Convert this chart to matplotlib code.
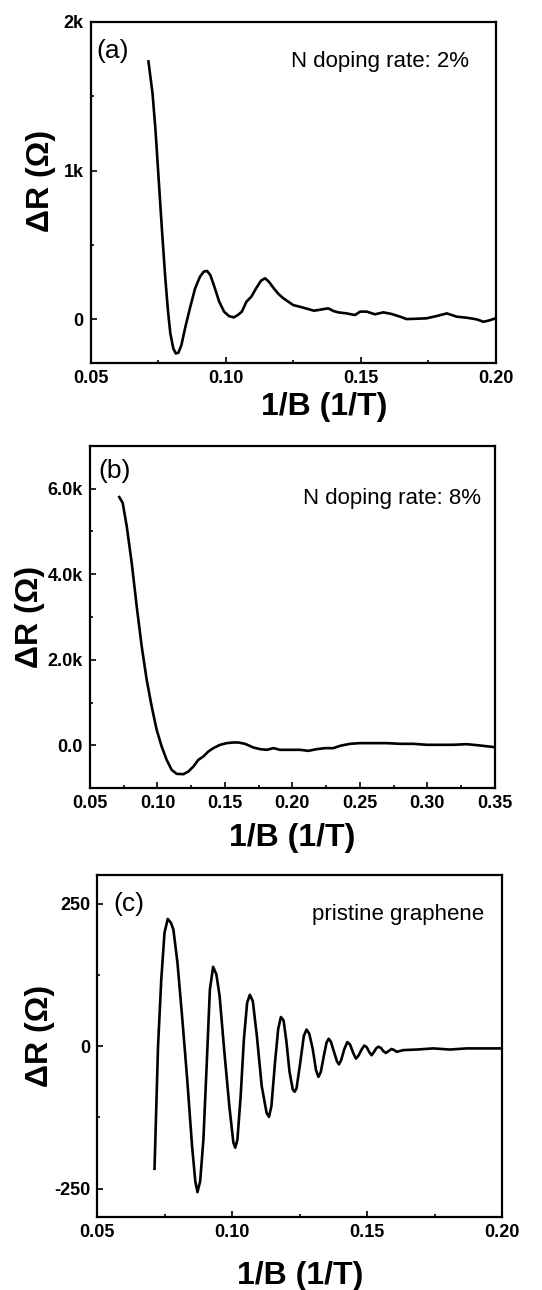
import matplotlib
matplotlib.use('Agg')
import matplotlib.pyplot as plt
from matplotlib.ticker import FixedLocator, MultipleLocator

plt.rcParams['font.family'] = ['Liberation Sans', 'DejaVu Sans']
plt.rcParams['axes.unicode_minus'] = False

# ── (a) N doping 2% ─────────────────────────────────────────
x_a = [0.0714, 0.0729, 0.0740, 0.0752, 0.0764, 0.0776, 0.0786, 0.0795, 0.0806,
       0.0815, 0.0825, 0.0836, 0.0851, 0.0869, 0.0887, 0.0905, 0.0919, 0.0931,
       0.0943, 0.0958, 0.0976, 0.0994, 0.1012, 0.1030, 0.1045, 0.1060, 0.1077,
       0.1095, 0.1113, 0.1131, 0.1146, 0.1160, 0.1178, 0.1196, 0.1214, 0.1232,
       0.1250, 0.1274, 0.1304, 0.1327, 0.1357, 0.1380, 0.1399, 0.1417, 0.1448,
       0.1479, 0.1498, 0.1522, 0.1553, 0.1584, 0.1615, 0.1646, 0.1670, 0.1707,
       0.1744, 0.1781, 0.1819, 0.1856, 0.1893, 0.1930, 0.1954, 0.1973, 0.2000]
r_a = [1733, 1520, 1274, 937, 601, 287, 63, -94, -195,
       -229, -224, -173, -49, 85, 209, 287, 321, 325,
       298, 220, 119, 52, 22, 13, 29, 52, 119,
       152, 209, 260, 276, 253, 209, 170, 141, 119,
       96, 85, 70, 58, 67, 74, 56, 47, 40,
       29, 52, 52, 34, 47, 36, 18, 2, 4,
       7, 22, 40, 18, 11, 0, -16, -9, 7]

# ── (b) N doping 8% ─────────────────────────────────────────
x_b = [0.0717, 0.0742, 0.0772, 0.0809, 0.0846, 0.0883, 0.0920, 0.0957, 0.0994,
       0.1031, 0.1068, 0.1105, 0.1142, 0.1192, 0.1229, 0.1266, 0.1303, 0.1340,
       0.1377, 0.1414, 0.1464, 0.1513, 0.1563, 0.1600, 0.1649, 0.1711, 0.1761,
       0.1810, 0.1860, 0.1908, 0.1983, 0.2057, 0.2118, 0.2180, 0.2242, 0.2304,
       0.2353, 0.2427, 0.2501, 0.2600, 0.2699, 0.2798, 0.2897, 0.2996, 0.3095,
       0.3193, 0.3292, 0.3391, 0.3500]
r_b = [5799, 5666, 5121, 4263, 3250, 2315, 1535, 912, 366,
       -23, -335, -569, -662, -670, -608, -491, -335, -257,
       -140, -62, 16, 55, 70, 70, 39, -47, -86,
       -101, -62, -101, -101, -101, -125, -86, -62, -62,
       -8, 39, 55, 55, 55, 39, 39, 16, 16,
       16, 31, 0, -39]

# ── (c) pristine graphene ───────────────────────────────────
x_c = [0.0712, 0.0725, 0.0737, 0.0749, 0.0761, 0.0773, 0.0782, 0.0797, 0.0815,
       0.0833, 0.0851, 0.0863, 0.0871, 0.0881, 0.0893, 0.0905, 0.0917, 0.0929,
       0.0941, 0.0953, 0.0971, 0.0989, 0.1004, 0.1011, 0.1019, 0.1031, 0.1043,
       0.1055, 0.1065, 0.1076, 0.1091, 0.1109, 0.1127, 0.1136, 0.1145, 0.1158,
       0.1170, 0.1180, 0.1190, 0.1200, 0.1212, 0.1224, 0.1231, 0.1238, 0.1252,
       0.1265, 0.1275, 0.1285, 0.1298, 0.1310, 0.1319, 0.1328, 0.1340, 0.1349,
       0.1357, 0.1365, 0.1378, 0.1388, 0.1395, 0.1403, 0.1415, 0.1426, 0.1436,
       0.1448, 0.1458, 0.1467, 0.1480, 0.1489, 0.1498, 0.1508, 0.1516, 0.1525,
       0.1533, 0.1541, 0.1550, 0.1560, 0.1569, 0.1578, 0.1590, 0.1600, 0.1609,
       0.1633, 0.1683, 0.1744, 0.1806, 0.1868, 0.1930, 0.2000]
r_c = [-215, 0, 117, 199, 223, 216, 204, 146, 47,
       -58, -175, -237, -256, -237, -164, -35, 99, 139,
       126, 88, -12, -105, -169, -178, -164, -88, 12,
       76, 90, 79, 18, -70, -117, -124, -105, -30,
       30, 51, 45, 10, -45, -76, -80, -74, -28,
       18, 29, 22, -5, -42, -54, -45, -15, 6,
       13, 8, -12, -27, -32, -25, -5, 7, 3,
       -12, -22, -17, -5, 1, -2, -11, -16, -10,
       -4, -1, -3, -9, -12, -9, -5, -7, -10,
       -7, -6, -4, -6, -4, -4, -4]

# 패널별 축 범위 / 눈금
xlim_a, xlim_b, xlim_c = (0.05, 0.20), (0.05, 0.35), (0.05, 0.20)
ylim_a, ylim_b, ylim_c = (-295, 2000), (-1000, 7000), (-300, 300)
xticks_a = [0.05, 0.10, 0.15, 0.20]
xticks_b = [0.05, 0.10, 0.15, 0.20, 0.25, 0.30, 0.35]
xticks_c = [0.05, 0.10, 0.15, 0.20]
yticks_a, ylabels_a = [0, 1000, 2000], ['0', '1k', '2k']
yticks_b, ylabels_b = [0, 2000, 4000, 6000], ['0.0', '2.0k', '4.0k', '6.0k']
yticks_c, ylabels_c = [-250, 0, 250], ['-250', '0', '250']

panels = [
    dict(rect=[0.1673, 0.7184, 0.7472, 0.2648], x=x_a, y=r_a, xlim=xlim_a, ylim=ylim_a,
         xticks=xticks_a, yticks=yticks_a, ylabels=ylabels_a, yminor=500,
         tag='(a)', tag_xy=(0.015, 0.95), note='N doping rate: 2%', note_xy=(0.935, 0.883),
         xlab_xy=(0.576, -0.128), ylab_xy=(-0.123, 0.534)),
    dict(rect=[0.1661, 0.3889, 0.7467, 0.2656], x=x_b, y=r_b, xlim=xlim_b, ylim=ylim_b,
         xticks=xticks_b, yticks=yticks_b, ylabels=ylabels_b, yminor=1000,
         tag='(b)', tag_xy=(0.02, 0.96), note='N doping rate: 8%', note_xy=(0.965, 0.847),
         xlab_xy=(0.5, -0.144), ylab_xy=(-0.148, 0.5)),
    dict(rect=[0.1795, 0.0564, 0.7472, 0.2653], x=x_c, y=r_c, xlim=xlim_c, ylim=ylim_c,
         xticks=xticks_c, yticks=yticks_c, ylabels=ylabels_c, yminor=125,
         tag='(c)', tag_xy=(0.039, 0.95), note='pristine graphene', note_xy=(0.955, 0.886),
         xlab_xy=(0.5, -0.172), ylab_xy=(-0.142, 0.53)),
]

fig = plt.figure(figsize=(5.42, 12.9), dpi=100)

for p in panels:
    ax = fig.add_axes(p['rect'])
    ax.plot(p['x'], p['y'], color='black', lw=1.9, solid_joinstyle='round')
    ax.set_xlim(*p['xlim'])
    ax.set_ylim(*p['ylim'])

    ax.xaxis.set_major_locator(FixedLocator(p['xticks']))
    ax.set_xticklabels([f'{v:.2f}' for v in p['xticks']])
    ax.xaxis.set_minor_locator(MultipleLocator(0.025))
    ax.yaxis.set_major_locator(FixedLocator(p['yticks']))
    ax.set_yticklabels(p['ylabels'])
    ax.yaxis.set_minor_locator(MultipleLocator(p['yminor']))

    ax.tick_params(which='both', direction='in', top=False, right=False, width=1.2)
    ax.tick_params(which='major', length=4.5, pad=5, labelsize=13)
    ax.tick_params(which='minor', length=2.5)
    for lab in ax.get_xticklabels() + ax.get_yticklabels():
        lab.set_fontweight('bold')
    for sp in ax.spines.values():
        sp.set_linewidth(1.6)

    ax.set_xlabel('1/B (1/T)', fontsize=23, fontweight='bold', va='center')
    ax.xaxis.set_label_coords(*p['xlab_xy'])
    ax.set_ylabel('ΔR (Ω)', fontsize=23, fontweight='bold', va='center')
    ax.yaxis.set_label_coords(*p['ylab_xy'])

    ax.text(*p['tag_xy'], p['tag'], transform=ax.transAxes, fontsize=19,
            ha='left', va='top')
    ax.text(*p['note_xy'], p['note'], transform=ax.transAxes, fontsize=16,
            ha='right', va='center')

fig.savefig('out.png', dpi=100)
